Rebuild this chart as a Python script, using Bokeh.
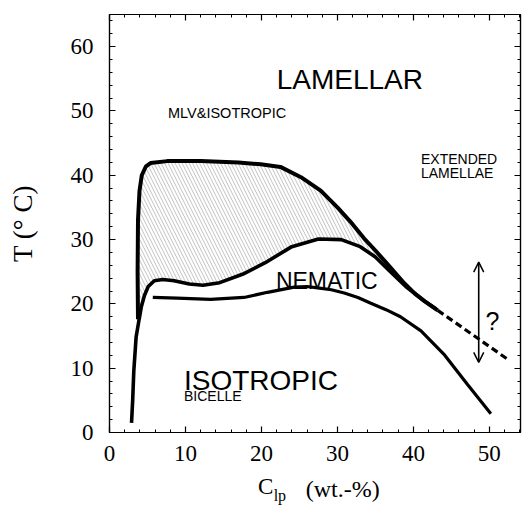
from bokeh.plotting import figure
from bokeh.models import LinearAxis, SingleIntervalTicker, FixedTicker, Range1d, Arrow, OpenHead
from bokeh.core.properties import value
from bokeh.embed import file_html
from bokeh.resources import INLINE

# ---- data ----
# outer boundary rising from bottom-left, then upper boundary of nematic phase
outer_x = [2.9, 3.05, 3.2, 3.5, 3.9, 4.2, 4.6, 5.1, 5.9, 7.0, 8.5, 10.5, 12.3, 14.5, 17.5, 20.5, 24.0, 27.5, 30.5, 33.0, 35.0, 36.8, 39.0, 41.5, 43.0]
outer_y = [1.5, 5.0, 9.6, 14.8, 17.6, 19.6, 21.3, 22.7, 23.6, 23.8, 23.6, 23.1, 22.9, 23.3, 24.6, 26.4, 28.9, 30.1, 30.0, 28.9, 27.3, 25.2, 22.7, 20.4, 19.2]
# lamellar boundary (vertical left side + top of hatched region)
lam_x = [3.75, 3.7, 3.75, 3.95, 4.25, 4.8, 5.4, 7.6, 12.0, 17.0, 19.9, 22.5, 25.2, 27.8, 30.0, 31.7, 33.5, 35.0, 36.5, 38.8, 40.2, 41.5, 43.2]
lam_y = [17.6, 25.0, 33.0, 37.6, 40.0, 41.4, 41.9, 42.2, 42.2, 42.0, 41.7, 41.3, 39.7, 37.6, 35.0, 32.8, 30.2, 28.3, 26.3, 23.2, 21.6, 20.4, 19.0]
# dashed extrapolation
dash_x = [43.2, 52.4]
dash_y = [19.0, 11.4]
# lower nematic / isotropic boundary
iso_x = [5.7, 8.9, 13.3, 17.7, 20.8, 24.3, 26.0, 27.4, 29.2, 30.9, 32.7, 34.4, 36.4, 38.3, 41.0, 44.0, 47.1, 50.2]
iso_y = [21.0, 20.9, 20.7, 21.0, 21.8, 22.6, 22.7, 22.5, 22.2, 21.7, 21.0, 20.1, 19.1, 18.0, 15.8, 12.2, 7.5, 2.9]
# uncertainty arrow
arrow_x = 48.6
arrow_y0, arrow_y1 = 10.9, 26.5

# x-axis title pieces: (x-centre: text)
xtitle_c = {20.57: "C"}
xtitle_unit = {30.7: "(wt.-%)"}
xtitle_sub = {22.43: "lp"}

p = figure(width=524, height=506, x_range=Range1d(0, 54.1), y_range=Range1d(0, 65),
           output_backend="svg", toolbar_location=None,
           min_border_left=109, min_border_right=4, min_border_top=14, min_border_bottom=74)
p.grid.visible = False
p.outline_line_color = "black"
p.outline_line_width = 1.2
p.background_fill_color = "white"
p.border_fill_color = "white"

serif = "Liberation Serif"

def style(ax, labels=True):
    ax.ticker = SingleIntervalTicker(interval=10, num_minor_ticks=5)
    ax.major_tick_in = 6
    ax.major_tick_out = 0
    ax.minor_tick_in = 3
    ax.minor_tick_out = 0
    ax.axis_line_color = "black"
    ax.axis_line_width = 1.2
    ax.major_tick_line_color = "black"
    ax.minor_tick_line_color = "black"
    ax.major_tick_line_width = 1.2
    ax.minor_tick_line_width = 1
    if labels:
        ax.major_label_text_font = serif
        ax.major_label_text_font_size = "23px"
        ax.major_label_text_color = "black"
    else:
        ax.major_label_text_font_size = "1px"
        ax.major_label_text_color = None
        ax.major_label_standoff = 0

style(p.xaxis[0])
style(p.yaxis[0])
p.xaxis[0].major_label_standoff = 13
p.yaxis[0].major_label_standoff = 16
p.yaxis[0].axis_label = "T (° C)"
p.yaxis[0].axis_label_text_font = serif
p.yaxis[0].axis_label_text_font_style = "normal"
p.yaxis[0].axis_label_text_font_size = "27px"
p.yaxis[0].axis_label_text_color = "black"
p.yaxis[0].axis_label_standoff = 30

ax_r = LinearAxis()
style(ax_r, labels=False)
p.add_layout(ax_r, "right")
ax_t = LinearAxis()
style(ax_t, labels=False)
p.add_layout(ax_t, "above")

def text_axis(labels, size, standoff):
    ax = LinearAxis(ticker=FixedTicker(ticks=list(labels.keys()), minor_ticks=[]))
    ax.major_label_overrides = dict(labels)
    ax.axis_line_color = None
    ax.major_tick_line_color = None
    ax.minor_tick_line_color = None
    ax.major_tick_in = 0
    ax.major_tick_out = 0
    ax.minor_tick_in = 0
    ax.minor_tick_out = 0
    ax.major_label_standoff = standoff
    ax.major_label_text_font = serif
    ax.major_label_text_font_size = size
    ax.major_label_text_color = "black"
    p.add_layout(ax, "below")

text_axis(xtitle_c, "23px", 10)
text_axis(xtitle_unit, "24px", -26)
text_axis(xtitle_sub, "16px", -18)

# hatched two-phase region
hx, hy = [], []
for x, y in zip(lam_x, lam_y):
    if x <= 36.8:
        hx.append(x); hy.append(y)
seg = [(x, y) for x, y in zip(outer_x, outer_y) if 3.8 <= x <= 36.8 and y >= 17.5]
for x, y in reversed(seg):
    hx.append(x); hy.append(y)
p.patch(hx, hy, fill_color=None, line_color=None,
        hatch_pattern="left_diagonal_line", hatch_color="#a8a8a8", hatch_scale=7, hatch_weight=0.7)

p.line(outer_x, outer_y, line_color="black", line_width=3.6)
p.line(lam_x, lam_y, line_color="black", line_width=4)
p.line(iso_x, iso_y, line_color="black", line_width=3.2)
p.line(dash_x, dash_y, line_color="black", line_width=3.2, line_dash="7 4")

p.add_layout(Arrow(start=OpenHead(size=10, line_width=1.5), end=OpenHead(size=10, line_width=1.5),
                   x_start=arrow_x, y_start=arrow_y0, x_end=arrow_x, y_end=arrow_y1,
                   line_width=1.6, line_color="black"))

sans = value("Liberation Sans")
def txt(x, y, s, size):
    p.text(x=[x], y=[y], text=[s], text_font=sans, text_font_size=value(size),
           text_align="left", text_baseline="alphabetic", text_color="black")

txt(22.0, 54.9, "LAMELLAR", "28px")
txt(7.7, 49.75, "MLV&ISOTROPIC", "14.5px")
txt(41.0, 42.6, "EXTENDED", "14px")
txt(41.0, 40.4, "LAMELLAE", "14px")
txt(21.9, 23.5, "NEMATIC", "23px")
txt(9.8, 8.16, "ISOTROPIC", "28px")
txt(9.8, 5.6, "BICELLE", "14px")
txt(49.5, 17.4, "?", "25px")

open("out.html", "w").write(file_html(p, INLINE))
